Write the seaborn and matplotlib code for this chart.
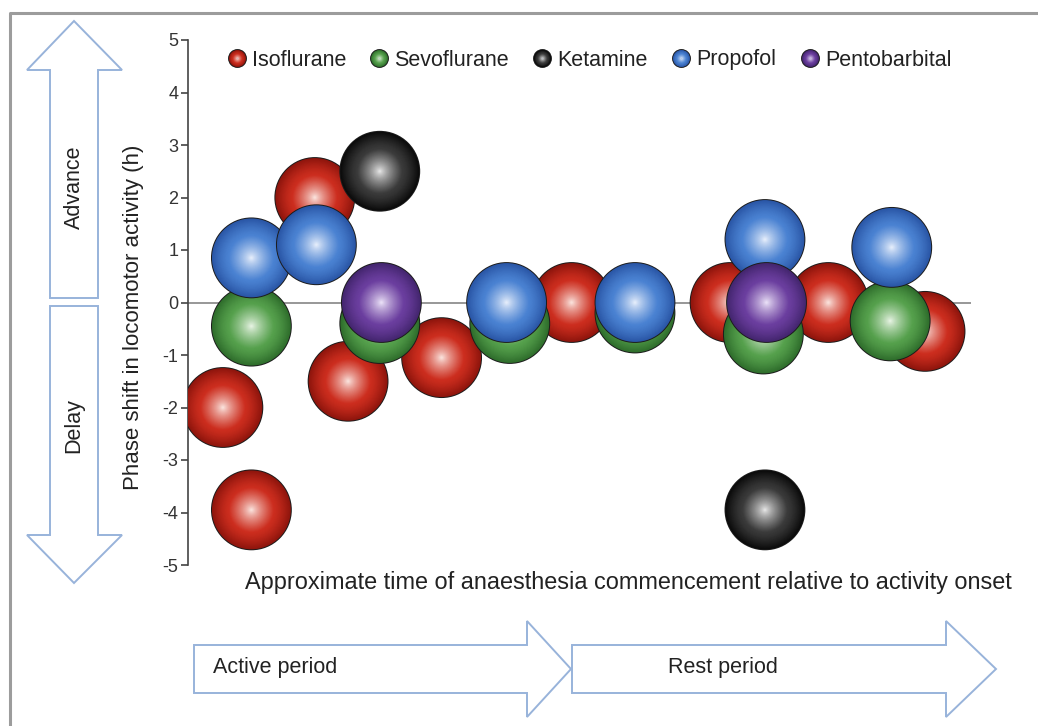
import numpy as np
import pandas as pd
import matplotlib
matplotlib.use("Agg")
import matplotlib.pyplot as plt
import seaborn as sns
from matplotlib.colors import to_rgb
from matplotlib.lines import Line2D
from matplotlib.legend_handler import HandlerTuple
from matplotlib.patches import Polygon

# ---- data: time of anaesthesia (h after activity onset) and phase shift (h) ----
drugs = ["Isoflurane", "Sevoflurane", "Ketamine", "Propofol", "Pentobarbital"]

iso_time = [1.1, 2.0, 4.0, 5.05, 8.0, 12.1, 17.1, 20.2, 23.25]
iso_shift = [-2.0, -3.95, 2.0, -1.5, -1.05, 0.0, 0.0, 0.0, -0.55]

sevo_time = [2.0, 6.05, 10.15, 14.1, 18.15, 22.15]
sevo_shift = [-0.45, -0.4, -0.4, -0.2, -0.6, -0.35]

ket_time = [6.05, 18.2]
ket_shift = [2.5, -3.95]

prop_time = [2.0, 4.05, 10.05, 14.1, 18.2, 22.2]
prop_shift = [0.85, 1.1, 0.0, 0.0, 1.2, 1.05]

pento_time = [6.1, 18.25]
pento_shift = [0.0, 0.0]

y_ticks = [-5, -4, -3, -2, -1, 0, 1, 2, 3, 4, 5]

# sphere shading: (mid tone, rim tone, highlight)
shades = {
    "Isoflurane": ("#cc2d1e", "#8e150d", "#fff4ef"),
    "Sevoflurane": ("#55a04c", "#2f6e2c", "#f4fbf1"),
    "Ketamine": ("#3a3a3a", "#0b0b0b", "#f5f5f5"),
    "Propofol": ("#4a82d2", "#2a56a6", "#f4f8ff"),
    "Pentobarbital": ("#6b3e9f", "#44266f", "#f6f0ff"),
}

sns.set_theme(style="ticks")
plt.rcParams["font.family"] = ["Liberation Sans", "DejaVu Sans"]
plt.rcParams["axes.unicode_minus"] = False

W, H = 1038, 726
fig = plt.figure(figsize=(W / 100, H / 100), dpi=100)
ax = fig.add_axes([188 / W, 1 - 565 / H, (971 - 188) / W, 525 / H])


def shade_at(name, t):
    mid, rim, hi = (np.array(to_rgb(c)) for c in shades[name])
    if t < 0.58:
        f = (t / 0.58) ** 0.75
        return tuple(hi * (1 - f) + mid * f)
    f = ((t - 0.58) / 0.42) ** 1.3
    return tuple(mid * (1 - f) + rim * f)


def sphere_layers(name, radius_pt, n=48):
    ts = np.linspace(1.0, 0.03, n)
    cols = ["#1c1c1c"] + [shade_at(name, t) for t in ts]
    sizes = [(2 * (radius_pt + 0.7)) ** 2] + [(2 * radius_pt * t) ** 2 for t in ts]
    return cols, sizes


BALL_R = 28.4  # points


def draw_ball(x, y, name):
    cols, sizes = sphere_layers(name, BALL_R)
    keys = [f"L{i:02d}" for i in range(len(cols))]
    df = pd.DataFrame({"time": [x] * len(keys), "shift": [y] * len(keys), "layer": keys})
    sns.scatterplot(
        data=df, x="time", y="shift", hue="layer", size="layer",
        palette=dict(zip(keys, cols)), sizes=dict(zip(keys, sizes)),
        legend=False, linewidth=0, ax=ax, zorder=3,
    )


ax.axhline(0, color="#7a7a7a", lw=1.1, zorder=1)

series = [
    ("Isoflurane", iso_time, iso_shift),
    ("Sevoflurane", sevo_time, sevo_shift),
    ("Ketamine", ket_time, ket_shift),
    ("Propofol", prop_time, prop_shift),
    ("Pentobarbital", pento_time, pento_shift),
]
for name, xs, ys in series:
    for x, y in sorted(zip(xs, ys)):
        draw_ball(x, y, name)

ax.set_xlim(0, 24.7)
ax.set_ylim(-5, 5)
ax.set_yticks(y_ticks)
ax.set_yticklabels([str(v) for v in y_ticks])
ax.set_xticks([])
ax.set_xlabel("")
ax.set_ylabel("")
for side in ("top", "right", "bottom"):
    ax.spines[side].set_visible(False)
ax.spines["left"].set_color("#444444")
ax.spines["left"].set_linewidth(1.2)
ax.tick_params(axis="y", left=True, direction="out", length=5, width=1.2,
               color="#444444", pad=2, labelsize=13, labelcolor="#333333")
ax.patch.set_alpha(0)

# legend with small shaded spheres
handles = []
for name in drugs:
    cols, sizes = sphere_layers(name, 6.1, n=20)
    handles.append(tuple(
        Line2D([], [], ls="none", marker="o", markersize=np.sqrt(s),
               markerfacecolor=c, markeredgewidth=0)
        for c, s in zip(cols, sizes)
    ))
ax.legend(handles, drugs, handler_map={tuple: HandlerTuple(ndivide=1, pad=0)},
          ncol=5, loc="center left", bbox_to_anchor=(228 / W, 1 - 60 / H),
          bbox_transform=fig.transFigure, frameon=False, numpoints=1,
          handlelength=0.8, handletextpad=0.3, columnspacing=1.15,
          borderpad=0, borderaxespad=0, fontsize=15.5, labelcolor="#222222")

txt = dict(fontsize=15.5, color="#222222")
fig.text(133 / W, 1 - 317 / H, "Phase shift in locomotor activity (h)",
         rotation=90, ha="center", va="center", fontsize=16, color="#222222")
fig.text(245 / W, 1 - 582 / H,
         "Approximate time of anaesthesia commencement relative to activity onset",
         ha="left", va="center", fontsize=16.9, color="#222222")


def px_poly(points):
    return Polygon([(x / W, 1 - y / H) for x, y in points], closed=True,
                   transform=fig.transFigure, facecolor="white",
                   edgecolor="#98b3da", lw=1.4)


arrows = [
    [(74, 21), (122, 70), (98, 70), (98, 298), (50, 298), (50, 70), (27, 70)],
    [(50, 306), (98, 306), (98, 535), (122, 535), (74, 583), (27, 535), (50, 535)],
    [(194, 645), (527, 645), (527, 621), (571, 669), (527, 717), (527, 693), (194, 693)],
    [(572, 645), (946, 645), (946, 621), (996, 669), (946, 717), (946, 693), (572, 693)],
]
for pts in arrows:
    fig.add_artist(px_poly(pts))

fig.text(74 / W, 1 - 187 / H, "Advance", rotation=90, ha="center", va="center", **txt)
fig.text(74 / W, 1 - 426 / H, "Delay", rotation=90, ha="center", va="center", **txt)
fig.text(213 / W, 1 - 668 / H, "Active period", ha="left", va="center", **txt)
fig.text(668 / W, 1 - 668 / H, "Rest period", ha="left", va="center", **txt)

# outer frame
fig.add_artist(Line2D([10 / W, 10 / W, 1.0], [0.0, 1 - 13 / H, 1 - 13 / H],
                      transform=fig.transFigure, color="#9c9c9c", lw=2.2))

fig.savefig("out.png", dpi=100)
